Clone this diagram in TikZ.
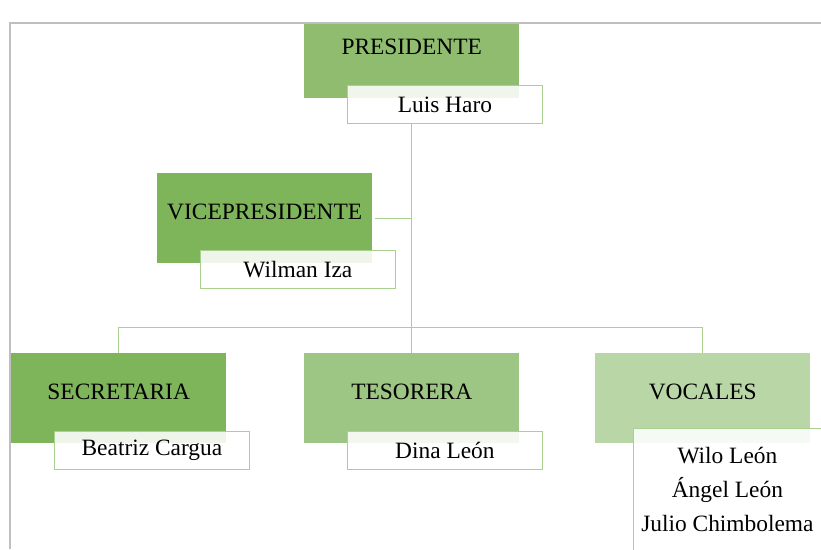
\documentclass[tikz,border=0pt]{standalone}
\usepackage{fontspec}
\setmainfont{Liberation Serif}
\usepackage{tikz}
\usetikzlibrary{positioning,calc}
\definecolor{verdeA}{RGB}{143,188,111}
\definecolor{verdeB}{RGB}{126,180,90}
\definecolor{verdeC}{RGB}{157,197,131}
\definecolor{verdeD}{RGB}{185,215,166}
\definecolor{linea}{RGB}{169,208,142}
\definecolor{marco}{RGB}{191,191,191}
\tikzset{
  cargo/.style={draw=none,anchor=north west,inner sep=0pt,minimum width=215pt,
               text height=46pt,text depth=44pt,align=center},
  nombre/.style={draw=linea,line width=0.8pt,fill=white,fill opacity=0.88,text opacity=1,
                anchor=north west,inner sep=0pt,minimum width=195pt,minimum height=38pt},
  enlace/.style={draw=linea,line width=0.9pt},
}

\begin{document}
\begin{tikzpicture}[x=1pt,y=-1pt,every node/.style={font=\fontsize{23.4}{34}\selectfont}]
  \useasboundingbox (0,0) rectangle (821,549);
  \begin{scope}
  \clip (10,24) rectangle (821,549);
  \node[cargo,fill=verdeA] (pres) at (304,8)   {PRESIDENTE};
  \node[cargo,fill=verdeB] (vice) at (157,173) {VICEPRESIDENTE};
  \node[cargo,fill=verdeB] (secr) at (11,353)  {SECRETARIA};
  \node[cargo,fill=verdeC] (teso) at (304,353) {TESORERA};
  \node[cargo,fill=verdeD] (voca) at (595,353) {VOCALES};
  \coordinate (bar) at (0,327);
  % lines between the posts
  \draw[enlace] (pres.south |- 0,123) -- (teso.north);
  \draw[enlace,shorten <=3pt] (vice.east) -- (vice.east -| pres.south);
  \draw[enlace] (secr.north) -- (secr.north |- bar) -| (voca.north);
  % names on top
  \node[nombre] (luis) at (347,85)  {Luis Haro};
  \node[nombre] (wilm) at (200,250) {Wilman Iza};
  \node[nombre] (beat) at (54,431)  {Beatriz Cargua};
  \node[nombre] (dina) at (347,431) {Dina León};
  \node[nombre,minimum width=188pt,minimum height=122pt,align=center] (voks) at (633,428)
    {Wilo León\\Ángel León\\Julio Chimbolema};
  \end{scope}
  \draw[marco,line width=2pt] (9.5,549) -- (9.5,23) -- (821,23);
\end{tikzpicture}
\end{document}
